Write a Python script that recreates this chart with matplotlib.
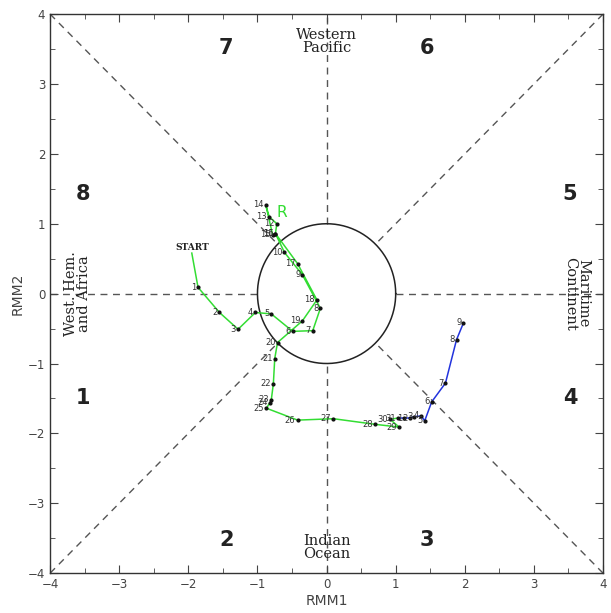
import matplotlib

matplotlib.use("Agg")

import matplotlib.pyplot as plt
import numpy as np

# green month: START + days 1..31
green_days = ["START"] + [str(d) for d in range(1, 32)]
green_rmm1 = [-1.95, -1.86, -1.55, -1.28, -1.03, -0.80, -0.49, -0.20, -0.09, -0.35,
              -0.61, -0.74, -0.72, -0.83, -0.88, -0.78, -0.74, -0.42, -0.14, -0.35,
              -0.71, -0.75, -0.77, -0.80, -0.82, -0.87, -0.42, 0.10, 0.70, 1.05,
              0.92, 1.03]
green_rmm2 = [0.58, 0.09, -0.27, -0.51, -0.27, -0.29, -0.54, -0.53, -0.21, 0.27,
              0.59, 0.86, 1.00, 1.10, 1.27, 0.84, 0.86, 0.43, -0.09, -0.39,
              -0.70, -0.93, -1.29, -1.52, -1.56, -1.64, -1.81, -1.79, -1.87, -1.91,
              -1.80, -1.78]

# blue month: days 1..9
blue_days = [str(d) for d in range(1, 10)]
blue_rmm1 = [1.12, 1.20, 1.27, 1.37, 1.42, 1.52, 1.72, 1.88, 1.98]
blue_rmm2 = [-1.78, -1.78, -1.76, -1.75, -1.82, -1.55, -1.28, -0.66, -0.42]

phase_labels = ["1", "2", "3", "4", "5", "6", "7", "8"]
phase_x = [-3.52, -1.45, 1.45, 3.52, 3.52, 1.45, -1.45, -3.52]
phase_y = [-1.49, -3.52, -3.52, -1.49, 1.43, 3.52, 3.52, 1.43]

GRAY = "#555555"
TXT = "#444444"

fig = plt.figure(figsize=(6.11, 6.13), dpi=100)
ax = fig.add_axes([0.082, 0.065, 0.905, 0.912])
ax.set_xlim(-4, 4)
ax.set_ylim(-4, 4)

# guide lines
dash = dict(color=GRAY, linestyle=(0, (5, 4)), linewidth=1.0, zorder=1)
r = np.sqrt(0.5)
for sx in (-1, 1):
    for sy in (-1, 1):
        ax.plot([sx * 4, sx * r], [sy * 4, sy * r], **dash)
ax.plot([-4, -1], [0, 0], **dash)
ax.plot([1, 4], [0, 0], **dash)
ax.plot([0, 0], [-4, -1], **dash)
ax.plot([0, 0], [1, 4], **dash)
t = np.linspace(0, 2 * np.pi, 300)
ax.plot(np.cos(t), np.sin(t), color="#222222", linewidth=1.1, zorder=2)

# phase numbers
for lab, px, py in zip(phase_labels, phase_x, phase_y):
    ax.text(px, py, lab, fontsize=15, fontweight="bold", color="#222222",
            ha="center", va="center", family="DejaVu Sans")

serif = dict(family="DejaVu Serif", fontsize=10.5, color="#222222", ha="center",
             va="center", linespacing=0.95)
ax.text(0, 3.61, "Western\nPacific", **serif)
ax.text(0, -3.63, "Indian\nOcean", **serif)
ax.text(-3.6, 0, "West. Hem.\nand Africa", rotation=90, **serif)
ax.text(3.62, 0, "Maritime\nContinent", rotation=-90, **serif)

# trajectories
ax.plot(green_rmm1, green_rmm2, color="#33dd33", linewidth=1.1, zorder=3)
ax.plot([green_rmm1[-1]] + blue_rmm1, [green_rmm2[-1]] + blue_rmm2,
        color="#2233dd", linewidth=1.1, zorder=3)
ax.plot(green_rmm1[1:] + blue_rmm1, green_rmm2[1:] + blue_rmm2, linestyle="none",
        marker="o", markersize=2.0, color="#111111", zorder=4)

for lab, x, y in zip(green_days[1:] + blue_days, green_rmm1[1:] + blue_rmm1,
                     green_rmm2[1:] + blue_rmm2):
    ax.annotate(lab, (x, y), xytext=(-1.5, 0), textcoords="offset points",
                ha="right", va="center", fontsize=6, color="#333333", zorder=5)

ax.text(green_rmm1[0], green_rmm2[0] + 0.02, green_days[0], family="DejaVu Serif",
        fontsize=6.5, fontweight="bold", color="#222222", ha="center", va="bottom")
ax.text(-0.65, 1.16, "R", fontsize=11, color="#33dd33", ha="center", va="center")

# axes styling
ax.set_xticks(np.arange(-4, 5, 1))
ax.set_yticks(np.arange(-4, 5, 1))
ax.set_xticks(np.arange(-4, 4.5, 0.5), minor=True)
ax.set_yticks(np.arange(-4, 4.5, 0.5), minor=True)
ax.tick_params(which="both", direction="in", top=True, right=True, colors=TXT,
               labelsize=8.5)
ax.tick_params(which="major", length=6)
ax.tick_params(which="minor", length=3.5)
for s in ax.spines.values():
    s.set_color("#333333")
    s.set_linewidth(1.0)
ax.set_xlabel("RMM1", fontsize=10, color=TXT, labelpad=2)
ax.set_ylabel("RMM2", fontsize=10, color=TXT, labelpad=2)

fig.savefig("out.png", dpi=100)
